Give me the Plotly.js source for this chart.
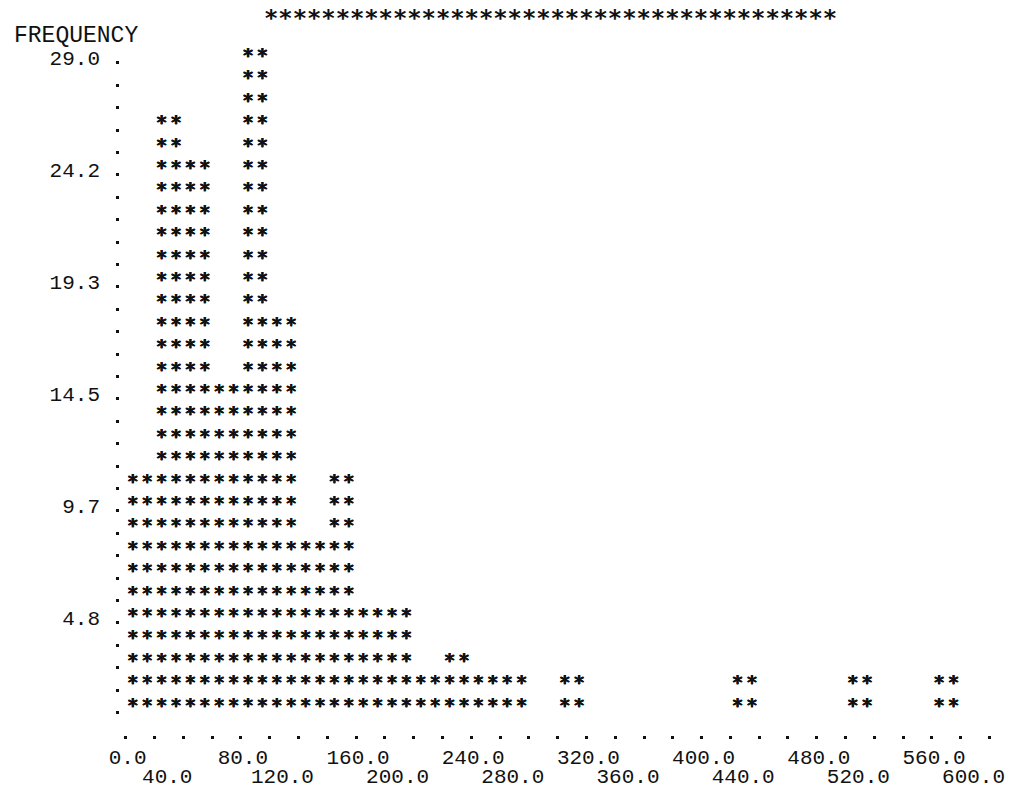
<!DOCTYPE html>
<html>
<head>
<meta charset="utf-8">
<script src="https://cdn.plot.ly/plotly-3.0.1.min.js"></script>
<style>html,body{margin:0;padding:0;background:#fff;}</style>
</head>
<body>
<div id="chart" style="width:1009px;height:799px;"></div>
<script>
// ---- data ----
const binStarts = [0,20,40,60,80,100,120,140,160,180,200,220,240,260,280,300,320,340,360,380,400,420,440,460,480,500,520,540,560,580];
const binWidth = 20;
const counts    = [11,27,25,15,29,18,8,11,5,5,2,3,2,2,0,2,0,0,0,0,0,2,0,0,0,2,0,0,2,0];
const freqMax = 29.0;           // top of frequency scale
const nRows = 30;               // printed rows in the scale
const yTickLabels = ['4.8','9.7','14.5','19.3','24.2','29.0'];
const xTopLabels    = ['0.0','80.0','160.0','240.0','320.0','400.0','480.0','560.0'];
const xBottomLabels = ['40.0','120.0','200.0','280.0','360.0','440.0','520.0','600.0'];
const xDotVals = [0,20,40,60,80,100,120,140,160,180,200,220,240,260,280,300,320,340,360,380,400,420,440,460,480,500,520,540,560,580,600];

// ---- build printer-style columns: two '*' characters per bin per printed row ----
const rowStep = freqMax / nRows;
const sx = [], sy = [];
binStarts.forEach((b, i) => {
  for (let k = 1; k <= nRows; k++) {
    if (k * rowStep <= counts[i] + 1e-9) {
      sx.push(b + binWidth / 4); sy.push(k * rowStep);
      sx.push(b + 3 * binWidth / 4); sy.push(k * rowStep);
    }
  }
});

const ink = '#111';
const bold = '0.35px 0 0 #111, -0.35px 0 0 #111';
const starFont = {family: 'DejaVu Sans Mono', size: 19, color: ink, weight: 700, shadow: bold};
const labFont = {family: 'Liberation Mono', size: 21, color: ink};

const traces = [
  {type: 'scatter', mode: 'text', x: sx, y: sy, text: sx.map(() => '*'),
   textposition: 'middle center', textfont: starFont, hoverinfo: 'skip',
   showlegend: false, cliponaxis: false},
  {type: 'scatter', mode: 'markers', x: [], y: [], xaxis: 'x2', showlegend: false}
];

const yTickVals = yTickLabels.map((_, i) => rowStep * 5 * (i + 1));
const dotVals = [];
for (let k = 1; k <= nRows; k++) dotVals.push(k * rowStep - 0.25);

const xr = [-6.7, 613.5];
const layout = {
  width: 1009, height: 799, autosize: false,
  margin: {l: 116, r: 0, t: 37, b: 64},
  paper_bgcolor: '#fff', plot_bgcolor: '#fff',
  showlegend: false,
  xaxis: {
    range: xr, showgrid: false, zeroline: false, showline: false,
    tickmode: 'array', tickvals: xDotVals,
    ticktext: xDotVals.map(v => { const j = xTopLabels.findIndex(t => parseFloat(t) === v); return j >= 0 ? xTopLabels[j] : ''; }),
    ticks: 'outside', ticklen: 3, tickwidth: 3, tickcolor: ink,
    tickfont: labFont, ticklabelstandoff: 0, ticklabelshift: 2, ticklabeloverflow: 'allow'
  },
  xaxis2: {
    range: xr, overlaying: 'x', anchor: 'y', side: 'bottom',
    showgrid: false, zeroline: false, showline: false,
    tickmode: 'array', tickvals: xBottomLabels.map(parseFloat), ticktext: xBottomLabels,
    ticks: '', tickfont: labFont, ticklabelstandoff: 26, ticklabelshift: -16, ticklabeloverflow: 'allow'
  },
  yaxis: {
    range: [-0.25, 29.87], showgrid: false, zeroline: false, showline: false,
    tickmode: 'array', tickvals: yTickVals, ticktext: yTickLabels,
    ticks: '', tickfont: labFont, ticklabelstandoff: 15,
    minor: {tickmode: 'array', tickvals: dotVals, ticks: 'inside', ticklen: 3, tickwidth: 3, tickcolor: ink, showgrid: false}
  },
  annotations: [
    {xref: 'paper', yref: 'paper', x: -0.117, y: 1.002, xanchor: 'left', yanchor: 'middle',
     text: 'FREQUENCY', showarrow: false, font: {family: 'Liberation Mono', size: 23, color: ink}},
    {xref: 'paper', yref: 'paper', x: 0.487, y: 1.027, xanchor: 'center', yanchor: 'middle',
     text: '****************************************', showarrow: false,
     font: {family: 'DejaVu Sans Mono', size: 23.8, color: ink, weight: 700}}
  ]
};

Plotly.newPlot('chart', traces, layout, {staticPlot: true, displayModeBar: false});
</script>
</body>
</html>
